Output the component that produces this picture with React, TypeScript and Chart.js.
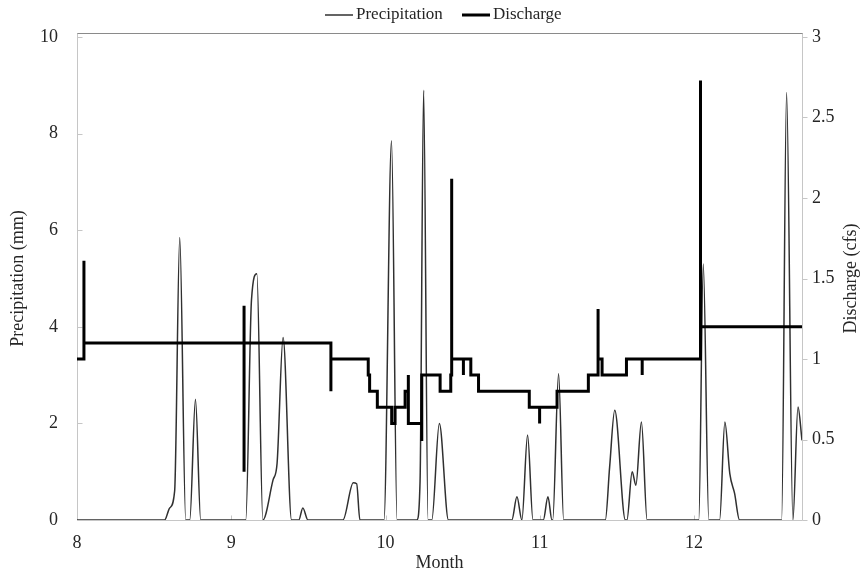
import React, { useEffect, useRef } from "react";
import { Chart, registerables } from "chart.js";

Chart.register(...registerables);

// Precipitation (mm) — month-decimal positions and values
const precipMonth = [
  8.0, 8.568, 8.601, 8.633, 8.666, 8.705, 8.731, 8.768, 8.802,
  9.094, 9.131, 9.166, 9.205, 9.271, 9.297, 9.336, 9.391, 9.438, 9.464, 9.497,
  9.724, 9.791, 9.813, 9.834, 9.99, 10.039, 10.075, 10.203, 10.224, 10.247, 10.276,
  10.3, 10.349, 10.408, 10.819, 10.852, 10.884, 10.921, 10.956, 11.023, 11.053, 11.079,
  11.084, 11.122, 11.155, 11.425, 11.453, 11.486, 11.555, 11.565, 11.599, 11.623, 11.659,
  11.696, 12.031, 12.06, 12.096, 12.166, 12.2, 12.232, 12.263, 12.295, 12.568, 12.6,
  12.641, 12.674, 12.7,
];
const precipValue = [
  0, 0, 0.25, 0.6, 5.85, 0, 0, 2.5, 0,
  0, 4.55, 5.1, 0, 0.83, 1.17, 3.78, 0, 0, 0.25, 0,
  0, 0.77, 0.75, 0, 0, 7.85, 0, 0, 0.8, 8.9, 0,
  0, 2.0, 0, 0, 0.48, 0, 1.76, 0, 0, 0.48, 0,
  0, 3.03, 0, 0, 1.1, 2.27, 0, 0, 1.0, 0.72, 2.03,
  0, 0, 5.3, 0, 0, 2.03, 0.96, 0.55, 0, 0, 8.85,
  0, 2.34, 1.65,
];

// Discharge (cfs) — step changes (new value starts at the given month position)
const dischargeMonth = [
  8.0, 8.045, 8.045, 9.083, 9.083, 9.083, 9.646, 9.646, 9.888, 9.897, 9.947,
  10.04, 10.062, 10.127, 10.148, 10.148, 10.235, 10.235, 10.354, 10.423, 10.429, 10.429,
  10.505, 10.505, 10.553, 10.603, 10.932, 10.999, 10.999, 11.112, 11.315, 11.378, 11.378,
  11.404, 11.562, 11.664, 11.664, 12.042, 12.042, 12.7,
];
const dischargeValue = [
  1.0, 1.61, 1.1, 0.3, 1.33, 1.1, 0.8, 1.0, 0.9, 0.8, 0.7,
  0.6, 0.7, 0.8, 0.9, 0.6, 0.49, 0.9, 0.8, 0.9, 2.12, 1.0,
  0.9, 1.0, 0.9, 0.8, 0.7, 0.6, 0.7, 0.8, 0.9, 1.31, 1.0,
  0.9, 1.0, 0.9, 1.0, 2.73, 1.2, 1.2,
];

const monthTicks = [8, 9, 10, 11, 12];
const precipTicks = [0, 2, 4, 6, 8, 10];
const dischargeTicks = [0, 0.5, 1, 1.5, 2, 2.5, 3];

const FONT = "'Liberation Serif', 'Times New Roman', serif";
const TEXT = "#262626";
const AXIS = "#c6c6c6";
const FS = 18;

const decorPlugin = {
  id: "decor",
  beforeDatasetsDraw(chart: any) {
    const { ctx, chartArea } = chart;
    const { left, right, top, bottom } = chartArea;
    const sx = chart.scales.x;
    const sy = chart.scales.y;
    const sy1 = chart.scales.y1;
    ctx.save();
    ctx.lineWidth = 1;
    ctx.strokeStyle = AXIS;
    ctx.beginPath();
    const L = Math.round(left) + 0.5;
    const R = Math.round(right) + 0.5;
    const B = Math.round(bottom) + 0.5;
    ctx.moveTo(L, top - 4);
    ctx.lineTo(L, B);
    ctx.lineTo(R, B);
    ctx.moveTo(R, top - 4);
    ctx.lineTo(R, B);
    precipTicks.forEach((v) => {
      const y = Math.round(sy.getPixelForValue(v)) + 0.5;
      ctx.moveTo(L, y);
      ctx.lineTo(L + 5, y);
    });
    dischargeTicks.forEach((v) => {
      const y = Math.round(sy1.getPixelForValue(v)) + 0.5;
      ctx.moveTo(R, y);
      ctx.lineTo(R + 5, y);
    });
    monthTicks.forEach((v) => {
      const x = Math.round(sx.getPixelForValue(v)) + 0.5;
      ctx.moveTo(x, B);
      ctx.lineTo(x, B - 5);
    });
    ctx.stroke();
    ctx.strokeStyle = "#8a8a8a";
    ctx.beginPath();
    ctx.moveTo(L, Math.round(top) - 3.5);
    ctx.lineTo(R, Math.round(top) - 3.5);
    ctx.stroke();
    ctx.restore();
  },
  afterDraw(chart: any) {
    const { ctx, chartArea } = chart;
    ctx.save();
    ctx.fillStyle = TEXT;
    ctx.font = `${FS}px ${FONT}`;
    ctx.textAlign = "center";
    ctx.textBaseline = "middle";
    ctx.translate(851, (chartArea.top + chartArea.bottom) / 2);
    ctx.rotate(-Math.PI / 2);
    ctx.fillText("Discharge (cfs)", 0, 0);
    ctx.restore();

    ctx.save();
    ctx.font = `17px ${FONT}`;
    ctx.textBaseline = "middle";
    ctx.textAlign = "left";
    ctx.fillStyle = TEXT;
    const ds = chart.data.datasets;
    const positions = [325, 462];
    ds.forEach((d: any, i: number) => {
      const x0 = positions[i];
      const y = 15;
      ctx.strokeStyle = d.borderColor;
      ctx.lineWidth = d.borderWidth;
      ctx.beginPath();
      ctx.moveTo(x0, y);
      ctx.lineTo(x0 + 28, y);
      ctx.stroke();
      ctx.fillText(d.label, x0 + 31, y);
    });
    ctx.restore();
  },
};

export default function App() {
  const ref = useRef<HTMLCanvasElement | null>(null);

  useEffect(() => {
    if (!ref.current) return;
    const chart = new Chart(ref.current, {
      type: "line",
      data: {
        datasets: [
          {
            label: "Precipitation",
            data: precipMonth.map((m, i) => ({ x: m, y: precipValue[i] })),
            borderColor: "#303030",
            borderWidth: 1.5,
            pointRadius: 0,
            cubicInterpolationMode: "monotone",
            yAxisID: "y",
            order: 2,
          },
          {
            label: "Discharge",
            data: dischargeMonth.map((m, i) => ({ x: m, y: dischargeValue[i] })),
            borderColor: "#000000",
            borderWidth: 3,
            pointRadius: 0,
            stepped: "before",
            yAxisID: "y1",
            order: 1,
          },
        ],
      },
      options: {
        responsive: false,
        animation: false,
        layout: { padding: { top: 37, left: 0, right: 0, bottom: 0 } },
        plugins: {
          legend: { display: false },
          tooltip: { enabled: false },
        },
        scales: {
          x: {
            type: "linear",
            position: "bottom",
            min: 8,
            max: 12.7,
            afterBuildTicks: (s: any) => {
              s.ticks = monthTicks.map((v) => ({ value: v }));
            },
            ticks: {
              includeBounds: false,
              color: TEXT,
              font: { family: FONT, size: FS },
              padding: 12,
              maxRotation: 0,
              callback: (v: any) => String(v),
            },
            grid: { display: false, drawTicks: false },
            border: { display: false },
            title: {
              display: true,
              text: "Month",
              color: TEXT,
              font: { family: FONT, size: FS },
              padding: { top: 0, bottom: 1 },
            },
            afterFit: (s: any) => {
              s.height = 55;
            },
          },
          y: {
            position: "left",
            min: 0,
            max: 10,
            afterBuildTicks: (s: any) => {
              s.ticks = precipTicks.map((v) => ({ value: v }));
            },
            ticks: {
              color: TEXT,
              font: { family: FONT, size: FS },
              padding: 19,
              callback: (v: any) => String(v),
            },
            grid: { display: false, drawTicks: false },
            border: { display: false },
            title: {
              display: true,
              text: "Precipitation (mm)",
              color: TEXT,
              font: { family: FONT, size: FS },
              padding: { top: 7, bottom: 0 },
            },
            afterFit: (s: any) => {
              s.width = 77;
            },
          },
          y1: {
            position: "right",
            min: 0,
            max: 3,
            afterBuildTicks: (s: any) => {
              s.ticks = dischargeTicks.map((v) => ({ value: v }));
            },
            ticks: {
              color: TEXT,
              font: { family: FONT, size: FS },
              padding: 10,
              callback: (v: any) => String(v),
            },
            grid: { display: false, drawTicks: false },
            border: { display: false },
            afterFit: (s: any) => {
              s.width = 58;
            },
          },
        },
      },
      plugins: [decorPlugin],
    });
    return () => chart.destroy();
  }, []);

  return (
    <div style={{ position: "absolute", left: 0, top: 0, width: 860, height: 575, background: "#fff" }}>
      <canvas ref={ref} width={860} height={575} />
    </div>
  );
}
